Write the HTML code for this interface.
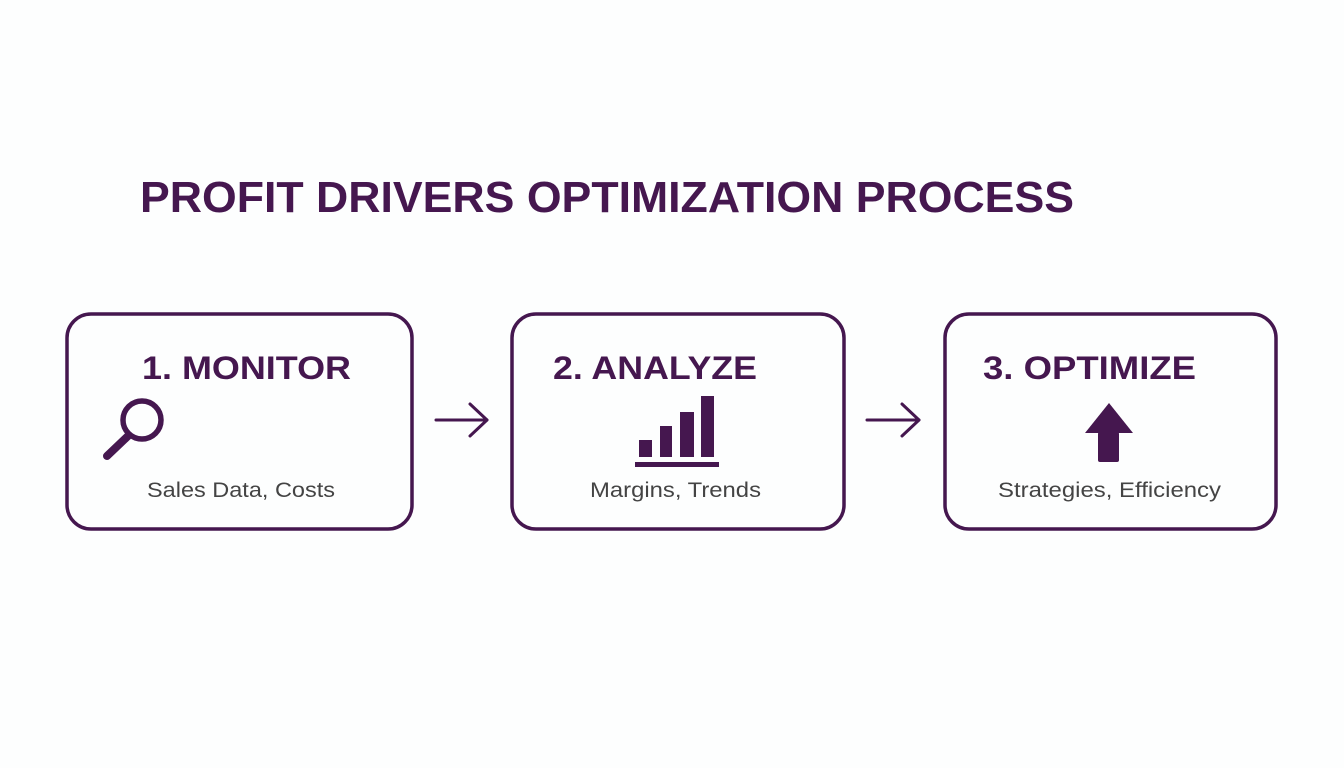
<!DOCTYPE html>
<html><head><meta charset="utf-8"><style>
html,body{margin:0;padding:0;background:#fdfefe;}
svg{display:block}
</style></head><body>
<svg width="1344" height="768" viewBox="0 0 1344 768" xmlns="http://www.w3.org/2000/svg">
<rect width="1344" height="768" fill="#fdfefe"/>
<g font-family="Liberation Sans, Arial, sans-serif">
<text x="140" y="212" font-size="44" font-weight="bold" fill="#45174f" textLength="934" lengthAdjust="spacingAndGlyphs">PROFIT DRIVERS OPTIMIZATION PROCESS</text>
<g fill="none" stroke="#45174f" stroke-width="3.5">
<rect x="67" y="314" width="345" height="215" rx="24"/>
<rect x="512" y="314" width="332" height="215" rx="24"/>
<rect x="945" y="314" width="331" height="215" rx="24"/>
</g>
<g font-size="32" font-weight="bold" fill="#45174f">
<text x="142" y="379" textLength="209" lengthAdjust="spacingAndGlyphs">1. MONITOR</text>
<text x="553" y="379" textLength="204" lengthAdjust="spacingAndGlyphs">2. ANALYZE</text>
<text x="983" y="379" textLength="213" lengthAdjust="spacingAndGlyphs">3. OPTIMIZE</text>
</g>
<g font-size="21" fill="#444">
<text x="147" y="497" textLength="188" lengthAdjust="spacingAndGlyphs">Sales Data, Costs</text>
<text x="590" y="497" textLength="171" lengthAdjust="spacingAndGlyphs">Margins, Trends</text>
<text x="998" y="497" textLength="223" lengthAdjust="spacingAndGlyphs">Strategies, Efficiency</text>
</g>
</g>
<!-- magnifier -->
<circle cx="142" cy="420" r="19" fill="none" stroke="#45174f" stroke-width="5.5"/>
<line x1="128" y1="436" x2="107" y2="456" stroke="#45174f" stroke-width="8" stroke-linecap="round"/>
<!-- bars -->
<g fill="#45174f">
<rect x="639" y="440" width="13" height="17"/>
<rect x="660" y="426" width="12" height="31"/>
<rect x="680" y="412" width="14" height="45"/>
<rect x="701" y="396" width="13" height="61"/>
<rect x="635" y="462" width="84" height="5"/>
<polygon points="1109,403 1133,433 1085,433"/>
<rect x="1098" y="432" width="21" height="30" rx="2"/>
</g>
<!-- arrows -->
<g fill="none" stroke="#45174f" stroke-width="3" stroke-linecap="round" stroke-linejoin="round">
<line x1="436" y1="420" x2="487" y2="420"/><polyline points="470,404 487,420 470,436"/>
<line x1="867" y1="420" x2="919" y2="420"/><polyline points="902,404 919,420 902,436"/>
</g>
</svg>
</body></html>
